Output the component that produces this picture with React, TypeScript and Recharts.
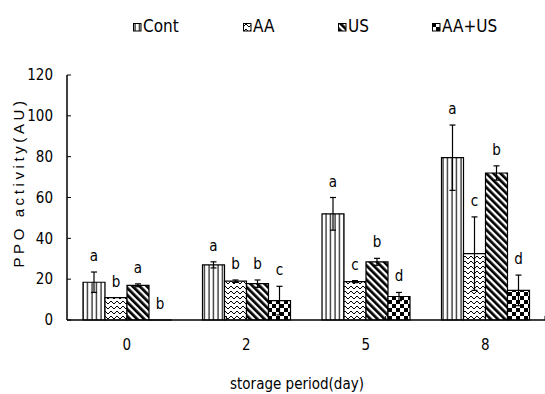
import React from 'react';
import { BarChart, Bar, XAxis, YAxis, ErrorBar, LabelList, ReferenceLine, Label } from 'recharts';

// PPO activity by storage day, four treatments
const days = ['0', '2', '5', '8'];
const cont = [18.5, 27, 52, 79.5];
const contErr = [5, 1.5, 8, 16];
const aa = [11, 19, 18.8, 32.5];
const aaErr = [0, 0.6, 0.5, 18];
const us = [17, 17.8, 28.5, 72];
const usErr = [0.7, 1.8, 1.7, 3.5];
const aaus = [0, 9.5, 11.5, 14.5];
const aausErr = [0, 7, 2, 7.5];
const contSig = ['a', 'a', 'a', 'a'];
const aaSig = ['b', 'b', 'c', 'c'];
const usSig = ['a', 'b', 'b', 'b'];
const aausSig = ['b', 'c', 'd', 'd'];
const yTicks = [0, 20, 40, 60, 80, 100, 120];
const dayBounds = [1, 2, 3];

const series = [
    { key: 'cont', name: 'Cont', values: cont, errs: contErr, sig: contSig, pat: 'vert' },
    { key: 'aa', name: 'AA', values: aa, errs: aaErr, sig: aaSig, pat: 'zig' },
    { key: 'us', name: 'US', values: us, errs: usErr, sig: usSig, pat: 'diag' },
    { key: 'aaus', name: 'AA+US', values: aaus, errs: aausErr, sig: aausSig, pat: 'check' },
];

const data = days.map((day, i) => {
    const row: Record<string, string | number> = { day };
    series.forEach((s) => {
        row[s.key] = s.values[i];
        row[s.key + 'Err'] = s.errs[i];
    });
    return row;
});

const NARROW = "'Liberation Sans Narrow', 'DejaVu Sans Condensed', 'Arial Narrow', sans-serif";
const SANS = "'Liberation Sans', Arial, sans-serif";

const Patterns = ({ prefix }: { prefix: string }) => (
    <defs>
        <pattern id={`${prefix}vert`} patternUnits="userSpaceOnUse" width={4.5} height={10}>
            <rect width={4.5} height={10} fill="#fff" />
            <line x1={2} y1={0} x2={2} y2={10} stroke="#000" strokeWidth={1.1} />
        </pattern>
        <pattern id={`${prefix}zig`} patternUnits="userSpaceOnUse" width={6} height={5}>
            <rect width={6} height={5} fill="#fff" />
            <polyline points="0,4 3,1 6,4" fill="none" stroke="#000" strokeWidth={1} />
        </pattern>
        <pattern id={`${prefix}diag`} patternUnits="userSpaceOnUse" width={5} height={6} patternTransform="rotate(-45)">
            <rect width={5} height={6} fill="#fff" />
            <rect width={2.7} height={6} fill="#000" />
        </pattern>
        <pattern id={`${prefix}check`} patternUnits="userSpaceOnUse" width={8} height={8}>
            <rect width={8} height={8} fill="#fff" />
            <rect width={4} height={4} fill="#000" />
            <rect x={4} y={4} width={4} height={4} fill="#000" />
        </pattern>
    </defs>
);

// significance letter sits just above the error bar; label value is the day
const sigLabel = (s: (typeof series)[number]) => (props: any) => {
    const { x, y, width, height, value } = props;
    const i = days.indexOf(String(value));
    if (i < 0) return null;
    const v = s.values[i];
    const errPx = v > 0 ? (s.errs[i] * Math.abs(Number(height))) / v : 0;
    return (
        <text
            x={Number(x) + Number(width) / 2}
            y={Math.min(Number(y), Number(y) + Number(height)) - errPx - 11}
            textAnchor="middle"
            fontFamily={NARROW}
            fontSize={15}
            fill="#000"
        >
            {s.sig[i]}
        </text>
    );
};

const YTitle = (props: any) => {
    const vb = props.viewBox;
    const cx = vb.x + 18;
    const cy = vb.y + vb.height / 2 - 15;
    return (
        <text
            x={cx}
            y={cy}
            transform={`rotate(-90, ${cx}, ${cy})`}
            textAnchor="middle"
            dominantBaseline="central"
            fontFamily={SANS}
            fontSize={15}
            letterSpacing={3.6}
            fill="#000"
        >
            PPO activity(AU)
        </text>
    );
};

const XTitle = (props: any) => {
    const vb = props.viewBox;
    return (
        <text x={vb.x + vb.width / 2 - 9} y={vb.y + vb.height - 5} textAnchor="middle" fontFamily={NARROW} fontSize={15} fill="#000">
            storage period(day)
        </text>
    );
};

const LegendRow = () => {
    const widths = [110, 95, 94, 80];
    return (
        <div style={{ position: 'absolute', left: 133, top: 16, display: 'flex', fontFamily: NARROW, fontSize: 17, lineHeight: '20px' }}>
            {series.map((s, i) => (
                <div key={s.key} style={{ width: widths[i], display: 'flex', alignItems: 'center' }}>
                    <svg width={9} height={9} style={{ marginRight: 1, marginTop: 2 }}>
                        <Patterns prefix="lg-" />
                        <rect x={0.5} y={0.5} width={7.5} height={7.5} fill={`url(#lg-${s.pat})`} stroke="#000" strokeWidth={1} />
                    </svg>
                    <span>{s.name}</span>
                </div>
            ))}
        </div>
    );
};

export default function App() {
    return (
        <div style={{ position: 'absolute', left: 0, top: 0, width: 545, height: 394, background: '#fff' }}>
            <BarChart width={545} height={394} data={data} margin={{ top: 75, right: 0, bottom: 0, left: 0 }} barGap={0} barSize={22}>
                <Patterns prefix="c-" />
                <XAxis
                    xAxisId="cat"
                    dataKey="day"
                    height={74}
                    tickLine={false}
                    tickSize={0}
                    tickMargin={19}
                    axisLine={{ stroke: '#000', strokeWidth: 1.5 }}
                    tick={{ fill: '#000', fontFamily: NARROW, fontSize: 15 }}
                >
                    <Label content={XTitle} />
                </XAxis>
                <XAxis xAxisId="num" type="number" domain={[0, 4]} hide />
                <YAxis
                    width={67}
                    domain={[0, 120]}
                    ticks={yTicks}
                    interval={0}
                    tickSize={-4}
                    tickMargin={18}
                    axisLine={{ stroke: '#000', strokeWidth: 1.5 }}
                    tickLine={{ stroke: '#000' }}
                    tick={{ fill: '#000', fontFamily: NARROW, fontSize: 15 }}
                >
                    <Label content={YTitle} />
                </YAxis>
                {dayBounds.map((b) => (
                    <ReferenceLine key={b} xAxisId="num" segment={[{ x: b, y: 0 }, { x: b, y: 2 }]} stroke="#000" />
                ))}
                {series.map((s) => (
                    <Bar
                        key={s.key}
                        xAxisId="cat"
                        dataKey={s.key}
                        name={s.name}
                        fill={`url(#c-${s.pat})`}
                        stroke="#000"
                        strokeWidth={1.2}
                        minPointSize={0.01}
                        isAnimationActive={false}
                    >
                        <ErrorBar dataKey={s.key + 'Err'} width={3} stroke="#000" strokeWidth={1.2} direction="y" />
                        <LabelList dataKey="day" content={sigLabel(s)} />
                    </Bar>
                ))}
            </BarChart>
            <LegendRow />
        </div>
    );
}
